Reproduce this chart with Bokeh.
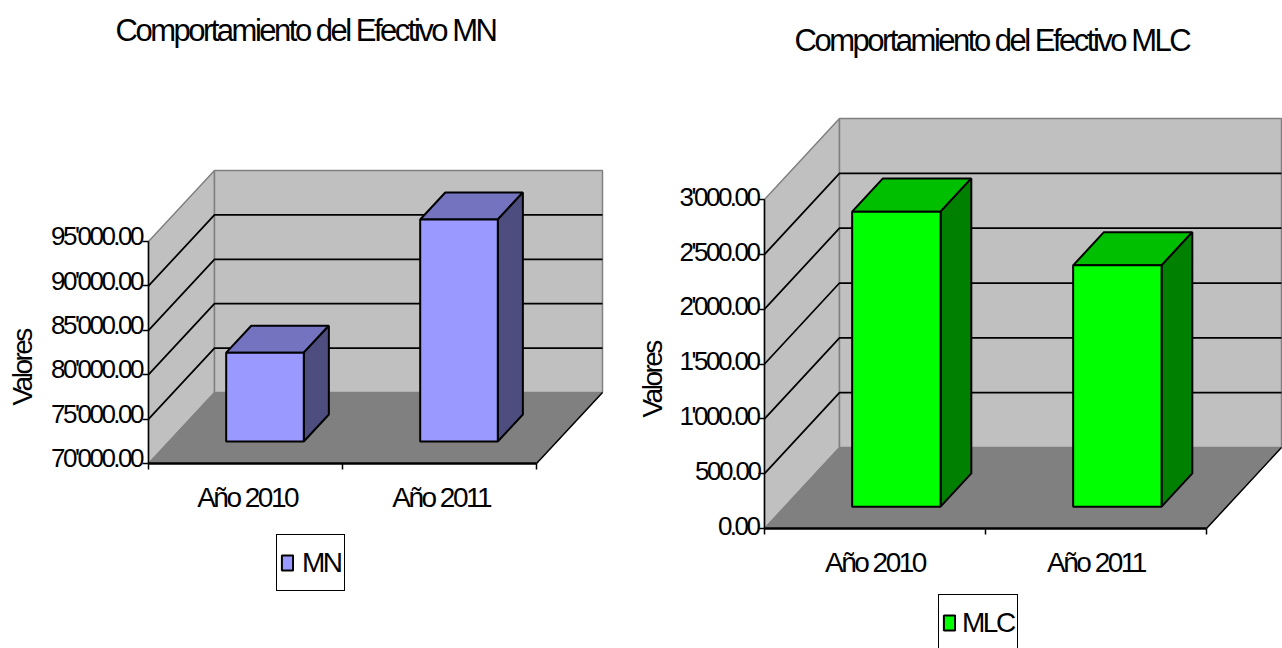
from bokeh.embed import file_html
from bokeh.models import FixedTicker, Label, Legend, LegendItem, LinearAxis, Range1d
from bokeh.plotting import figure
from bokeh.resources import INLINE

# Efectivo en moneda nacional
MN_CATEGORIES = ["Año 2010", "Año 2011"]
MN_VALUES = [80000.0, 95000.0]
MN_TICKS = [70000, 75000, 80000, 85000, 90000, 95000]

# Efectivo en moneda libremente convertible
MLC_CATEGORIES = ["Año 2010", "Año 2011"]
MLC_VALUES = [2690.0, 2200.0]
MLC_TICKS = [0, 500, 1000, 1500, 2000, 2500, 3000]

FONT = "Liberation Sans"
SPACING = -2.5
WIDTH, HEIGHT = 1282, 648


def money(v):
    return f"{v:,.2f}".replace(",", "'")


def draw_chart(p, name, title, series, cats, values, ticks, colors, origin, depth_px, unit_px, span_px,
               bar_depth, bar_start, title_pos, ylabel_pos, legend_pos, legend_gap, label_lift,
               label_gap, mid_shift):
    ox, oy = origin
    base, high = ticks[0], ticks[-1]
    per_value = span_px / (high - base)
    dx = depth_px[0] / unit_px
    dy = depth_px[1] / per_value
    n = len(cats)

    # Escalas propias de este gráfico dentro del lienzo común
    p.extra_x_ranges[name] = Range1d(-ox / unit_px, (WIDTH - ox) / unit_px)
    p.extra_y_ranges[name] = Range1d(base - (HEIGHT - oy) / per_value, base + oy / per_value)
    on = dict(x_range_name=name, y_range_name=name)

    # Paredes y piso de la caja en perspectiva caballera
    p.patch([0, dx, dx, 0], [base, base + dy, high + dy, high], fill_color="#c0c0c0",
            line_color="#808080", line_width=1.5, **on)
    p.patch([dx, n + dx, n + dx, dx], [base + dy, base + dy, high + dy, high + dy],
            fill_color="#c0c0c0", line_color="#808080", line_width=1.5, **on)
    p.patch([0, n, n + dx, dx], [base, base, base + dy, base + dy], fill_color="#808080",
            line_color="#808080", line_width=1, **on)
    p.line([n, n + dx], [base, base + dy], line_color="black", line_width=1.5, **on)

    # Rejilla sobre la pared lateral y la pared del fondo
    inner = ticks[1:-1]
    p.multi_line([[0, dx, n + dx] for _ in inner], [[t, t + dy, t + dy] for t in inner],
                 line_color="black", line_width=1.75, **on)

    # Barras: cara superior, cara lateral y cara frontal
    d0, d1 = bar_depth
    x0 = [i + bar_start + d0 * dx for i in range(n)]
    x1 = [i + bar_start + 0.4 + d0 * dx for i in range(n)]
    y0 = [base + d0 * dy] * n
    y1 = [v + d0 * dy for v in values]
    shift_x, shift_y = (d1 - d0) * dx, (d1 - d0) * dy
    p.patches([[a, b, b + shift_x, a + shift_x] for a, b in zip(x0, x1)],
              [[t, t, t + shift_y, t + shift_y] for t in y1],
              fill_color=colors[1], line_color="black", line_width=2, **on)
    p.patches([[b, b + shift_x, b + shift_x, b] for b in x1],
              [[l, l + shift_y, t + shift_y, t] for l, t in zip(y0, y1)],
              fill_color=colors[2], line_color="black", line_width=2, **on)
    front = p.quad(left=x0, right=x1, bottom=y0, top=y1, fill_color=colors[0],
                   line_color="black", line_width=2, **on)

    # Eje de valores: línea y marcas
    p.add_layout(LinearAxis(x_range_name=name, y_range_name=name, fixed_location=0, bounds=(base, high),
                            ticker=FixedTicker(ticks=ticks, minor_ticks=[]),
                            major_label_overrides={t: "" for t in ticks},
                            major_tick_in=0, major_tick_out=6, major_tick_line_width=1.5,
                            axis_line_width=1.5), "left")

    # Rótulos de valores, algo elevados respecto de sus marcas. El margen depende del
    # largo del texto porque el interletraje negativo no entra en la medida de Bokeh.
    by_length = {}
    for t in ticks:
        by_length.setdefault(len(money(t)), []).append(t)
    for length, group in by_length.items():
        lifted = [t + label_lift for t in group]
        p.add_layout(LinearAxis(x_range_name=name, y_range_name=name, fixed_location=0,
                                ticker=FixedTicker(ticks=lifted, minor_ticks=[]),
                                major_label_overrides={a: money(t) for a, t in zip(lifted, group)},
                                axis_line_color=None, major_tick_line_color=None,
                                major_tick_in=0, major_tick_out=0,
                                major_label_standoff=round(label_gap + (length - 1) * SPACING),
                                major_label_text_font=FONT, major_label_text_font_size="26px",
                                major_label_text_color="black"), "left")

    # Eje de categorías: marcas entre barras, rótulos centrados
    mids = [i + mid_shift for i in range(n)]
    p.add_layout(LinearAxis(x_range_name=name, y_range_name=name, fixed_location=base, bounds=(0, n),
                            ticker=FixedTicker(ticks=mids, minor_ticks=list(range(n + 1))),
                            major_label_overrides={m: c for m, c in zip(mids, cats)},
                            major_tick_in=0, major_tick_out=0, minor_tick_in=0, minor_tick_out=6,
                            minor_tick_line_width=1.5, axis_line_width=2.5, major_label_standoff=12,
                            major_label_text_font=FONT, major_label_text_font_size="28px",
                            major_label_text_color="black"), "below")

    p.add_layout(Label(x=title_pos[0], y=HEIGHT - title_pos[1], x_units="screen", y_units="screen",
                       text=title, text_font=FONT, text_font_size="31px", text_color="black",
                       text_baseline="middle"))
    p.add_layout(Label(x=ylabel_pos[0], y=HEIGHT - ylabel_pos[1], x_units="screen", y_units="screen",
                       text="Valores", angle=1.5708, text_font=FONT, text_font_size="28px",
                       text_color="black", text_baseline="middle"))

    p.add_layout(Legend(items=[LegendItem(label=series, renderers=[front])],
                        location=(legend_pos[0], HEIGHT - legend_pos[1]),
                        margin=0, padding=3, spacing=0, glyph_width=14, glyph_height=19,
                        label_height=49, label_standoff=legend_gap, label_text_font=FONT,
                        label_text_font_size="28px", label_text_color="black",
                        border_line_color="black", border_line_alpha=1, border_line_width=1.5,
                        background_fill_color="white", background_fill_alpha=1))


fig = figure(width=WIDTH, height=HEIGHT, output_backend="svg", toolbar_location=None,
             x_range=Range1d(0, WIDTH), y_range=Range1d(HEIGHT, 0),
             x_axis_location=None, y_axis_location=None,
             min_border=0, background_fill_color="white", border_fill_color="white",
             outline_line_color=None)
fig.stylesheets = [f":host {{ letter-spacing: {SPACING}px; }}"]
fig.grid.visible = False

draw_chart(fig, "mn", "Comportamiento del Efectivo MN", "MN", MN_CATEGORIES, MN_VALUES, MN_TICKS,
           ("#9999ff", "#7373bf", "#4d4d80"), (148, 463), (66, 71), 194, 222,
           (0.31, 0.69), 0.295, (115, 30), (22, 405), (276, 591), 8, 600, 4, 0.56)
draw_chart(fig, "mlc", "Comportamiento del Efectivo MLC", "MLC", MLC_CATEGORIES, MLC_VALUES, MLC_TICKS,
           ("#00ff00", "#00bf00", "#008000"), (764, 528), (75, 81), 221, 329,
           (0.27, 0.68), 0.305, (794, 40), (652, 417), (938, 651), 6, 25, 3, 0.545)

open("out.html", "w").write(file_html(fig, INLINE))
